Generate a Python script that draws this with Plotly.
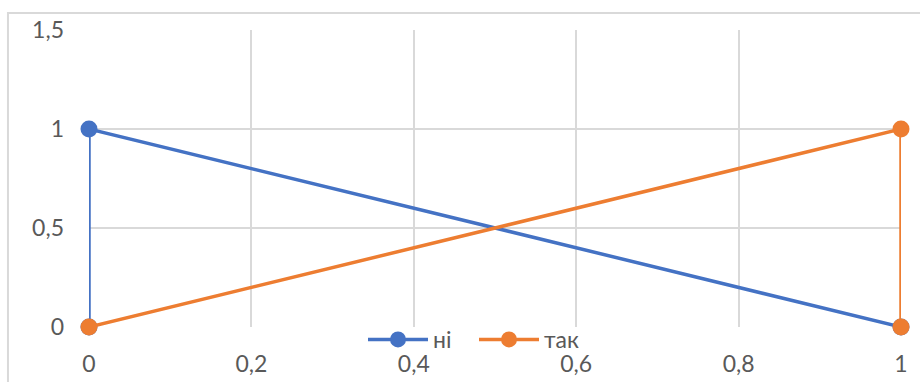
import plotly.graph_objects as go

# Series data
ni_x = [0, 0, 1]
ni_y = [0, 1, 0]
tak_x = [0, 1, 1]
tak_y = [0, 1, 0]

x_ticks = [0, 0.2, 0.4, 0.6, 0.8, 1]
x_labels = ["0", "0,2", "0,4", "0,6", "0,8", "1"]
y_ticks = [0, 0.5, 1, 1.5]
y_labels = ["0", "0,5", "1", "1,5"]

BLUE = "#4472C4"
ORANGE = "#ED7D31"
GRID = "#D9D9D9"
TEXT = "#595959"
FONT = "Lato, Open Sans, sans-serif"

fig = go.Figure()
fig.add_trace(go.Scatter(
    x=ni_x, y=ni_y, name="ні", mode="lines+markers",
    line=dict(color=BLUE, width=3.5),
    marker=dict(color=BLUE, size=17),
    cliponaxis=False,
))
fig.add_trace(go.Scatter(
    x=tak_x, y=tak_y, name="так", mode="lines+markers",
    line=dict(color=ORANGE, width=3.5),
    marker=dict(color=ORANGE, size=17),
    cliponaxis=False,
))

# Outer chart frame
fig.add_shape(type="rect", xref="paper", yref="paper",
              x0=-0.0998, x1=1.04, y0=-0.22, y1=1.057,
              line=dict(color=GRID, width=2), layer="below")

fig.update_layout(
    width=920, height=382,
    margin=dict(l=89, r=19, t=30, b=55),
    paper_bgcolor="white", plot_bgcolor="white",
    font=dict(family=FONT, size=23, color=TEXT),
    showlegend=True,
    legend=dict(orientation="h", x=(363 - 89) / 812, xanchor="left",
                y=-0.042, yanchor="middle",
                bgcolor="rgba(0,0,0,0)", font=dict(size=23, color=TEXT),
                itemwidth=60, entrywidth=36, entrywidthmode="pixels",
                tracegroupgap=0),
    xaxis=dict(range=[0, 1], tickvals=x_ticks, ticktext=x_labels,
               showgrid=True, gridcolor=GRID, gridwidth=2,
               zeroline=False, showline=False, ticks="",
               ticklabelstandoff=21, automargin=False, fixedrange=True),
    yaxis=dict(range=[0, 1.5], tickvals=y_ticks, ticktext=y_labels,
               showgrid=True, gridcolor=GRID, gridwidth=2,
               zeroline=False, showline=False, ticks="",
               ticklabelstandoff=24, automargin=False, fixedrange=True),
)

fig.write_html("out.html")
